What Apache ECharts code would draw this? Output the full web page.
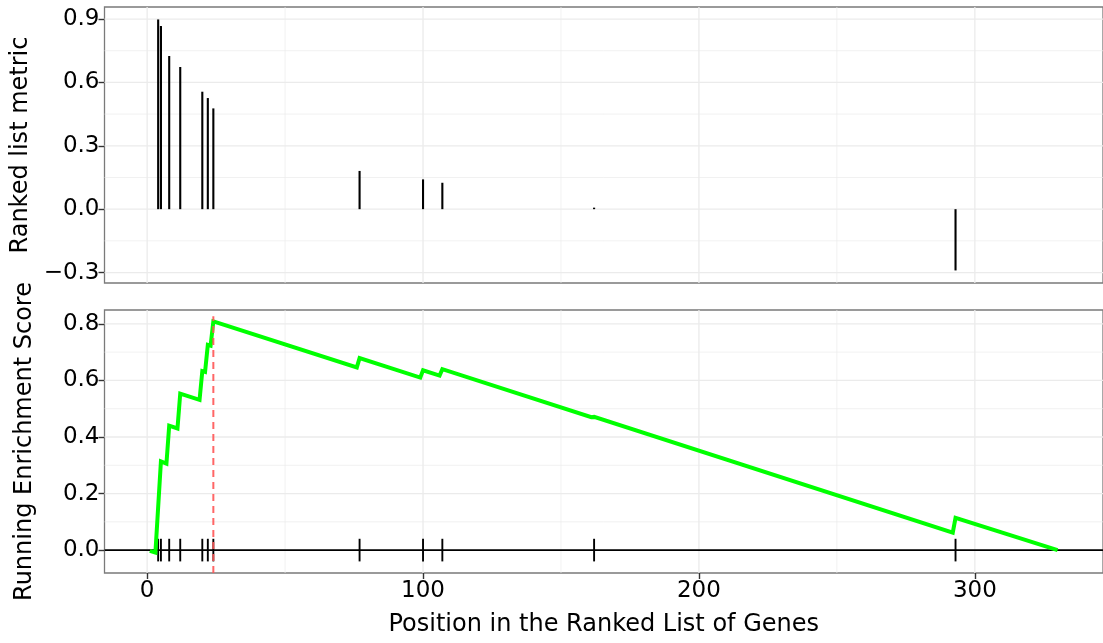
<!DOCTYPE html>
<html>
<head>
<meta charset="utf-8">
<script src="https://cdn.jsdelivr.net/npm/echarts@6/dist/echarts.min.js"></script>
<style>
html,body{margin:0;padding:0;background:#fff;}
#chart{width:1103px;height:643px;}
</style>
</head>
<body>
<div id="chart"></div>
<script>
// ---- data ----
const hitPositions = [4, 5, 8, 12, 20, 22, 24, 77, 100, 107, 162, 293];
const rankedMetric = [0.898, 0.867, 0.725, 0.673, 0.556, 0.526, 0.477, 0.181, 0.141, 0.125, 0.005, -0.29];
const esPositions = [1, 3, 5, 7, 8, 11, 12, 19, 20, 21, 22, 23, 24, 76, 77, 99, 100, 106, 107, 161, 162, 292, 293, 330];
const esValues = [-0.003, -0.009, 0.314, 0.306, 0.440, 0.430, 0.553, 0.531, 0.633, 0.630, 0.726, 0.723, 0.809, 0.646, 0.679, 0.610, 0.636, 0.617, 0.640, 0.470, 0.471, 0.062, 0.114, 0.000];
const xTicks = [0, 100, 200, 300];
const xMinor = [50, 150, 250];
const metricTicks = [-0.3, 0, 0.3, 0.6, 0.9];
const metricMinor = [-0.15, 0.15, 0.45, 0.75];
const esTicks = [0, 0.2, 0.4, 0.6, 0.8];
const esMinor = [0.1, 0.3, 0.5, 0.7];
const xTitle = 'Position in the Ranked List of Genes';
const metricTitle = 'Ranked list metric';
const esTitle = 'Running Enrichment Score';

// ---- style / layout ----
const FONT = 'DejaVu Sans';
const X_MIN = -15.45, X_MAX = 346.45;
const M_MIN = -0.3495, M_MAX = 0.957;
const E_MIN = -0.081, E_MAX = 0.849;
const GRID_COLOR = '#ebebeb';
const BORDER = '#7a7a7a';
const TICK_HALF = 0.04;

let peakIdx = 0;
esValues.forEach((v, i) => { if (v > esValues[peakIdx]) peakIdx = i; });

function fmt(v) {
  return (v < 0 ? '\u2212' : '') + Math.abs(v).toFixed(1);
}

// grid line items: [dir(0 vertical,1 horizontal), value, major(1/0)]
function gridItems(yMajor, yMinor) {
  const out = [];
  xMinor.forEach(v => out.push([0, v, 0]));
  yMinor.forEach(v => out.push([1, v, 0]));
  xTicks.forEach(v => out.push([0, v, 1]));
  yMajor.forEach(v => out.push([1, v, 1]));
  return out;
}
function renderGrid(params, api) {
  const cs = params.coordSys;
  const dir = api.value(0), v = api.value(1), major = api.value(2);
  let shape;
  if (dir === 0) {
    const x = api.coord([v, 0])[0];
    shape = { x1: x, y1: cs.y, x2: x, y2: cs.y + cs.height };
  } else {
    const y = api.coord([0, v])[1];
    shape = { x1: cs.x, y1: y, x2: cs.x + cs.width, y2: y };
  }
  return { type: 'line', shape, style: { stroke: GRID_COLOR, lineWidth: major ? 1.3 : 0.7 } };
}

const axisLabelBase = { fontFamily: FONT, fontSize: 23, color: '#000' };
const tickStyle = { color: '#333', width: 1.4 };
const nameStyle = { fontFamily: FONT, fontSize: 24, color: '#000' };
const noLine = { show: false, onZero: false };

const option = {
  animation: false,
  backgroundColor: '#fff',
  textStyle: { fontFamily: FONT },
  grid: [
    { left: 104.5, top: 7, width: 1001.5, height: 276, show: true, borderColor: BORDER, borderWidth: 1.3, backgroundColor: '#fff', containLabel: false },
    { left: 104.5, top: 310, width: 1001.5, height: 263, show: true, borderColor: BORDER, borderWidth: 1.3, backgroundColor: '#fff', containLabel: false }
  ],
  xAxis: [
    { type: 'value', gridIndex: 0, min: X_MIN, max: X_MAX, position: 'bottom',
      axisLine: noLine, axisTick: { show: false }, axisLabel: { show: false }, splitLine: { show: false } },
    { type: 'value', gridIndex: 1, min: X_MIN, max: X_MAX, position: 'bottom',
      axisLine: noLine,
      axisTick: { show: true, customValues: xTicks, length: 6, lineStyle: tickStyle },
      axisLabel: Object.assign({ customValues: xTicks, margin: 7, formatter: v => String(Math.round(v)) }, axisLabelBase),
      splitLine: { show: false },
      name: xTitle, nameLocation: 'middle', nameGap: 40,
      nameTextStyle: nameStyle }
  ],
  yAxis: [
    { type: 'value', gridIndex: 0, min: M_MIN, max: M_MAX, position: 'left',
      axisLine: noLine,
      axisTick: { show: true, customValues: metricTicks, length: 6, lineStyle: tickStyle },
      axisLabel: Object.assign({ customValues: metricTicks, margin: 5, formatter: fmt }, axisLabelBase),
      splitLine: { show: false },
      name: metricTitle, nameLocation: 'middle', nameRotate: 90, nameGap: 68,
      nameTextStyle: nameStyle },
    { type: 'value', gridIndex: 1, min: E_MIN, max: E_MAX, position: 'left',
      axisLine: noLine,
      axisTick: { show: true, customValues: esTicks, length: 6, lineStyle: tickStyle },
      axisLabel: Object.assign({ customValues: esTicks, margin: 5, formatter: fmt }, axisLabelBase),
      splitLine: { show: false },
      name: esTitle, nameLocation: 'middle', nameRotate: 90, nameGap: 68,
      nameTextStyle: nameStyle }
  ],
  series: [
    { type: 'custom', name: 'grid0', xAxisIndex: 0, yAxisIndex: 0, z: 1, silent: true,
      data: gridItems(metricTicks, metricMinor), renderItem: renderGrid },
    { type: 'custom', name: 'grid1', xAxisIndex: 1, yAxisIndex: 1, z: 1, silent: true,
      data: gridItems(esTicks, esMinor), renderItem: renderGrid },
    { type: 'custom', name: 'metric', xAxisIndex: 0, yAxisIndex: 0, z: 3, silent: true,
      data: hitPositions.map((p, i) => [p, rankedMetric[i]]),
      renderItem: function (params, api) {
        const a = api.coord([api.value(0), 0]);
        const b = api.coord([api.value(0), api.value(1)]);
        if (Math.abs(b[1] - a[1]) < 1.5) b[1] = a[1] - 1.5;
        return { type: 'line', shape: { x1: a[0], y1: a[1], x2: b[0], y2: b[1] },
                 style: { stroke: '#000', lineWidth: 2.1 } };
      } },
    { type: 'custom', name: 'zero', xAxisIndex: 1, yAxisIndex: 1, z: 3, silent: true,
      data: [[0, 0]],
      renderItem: function (params, api) {
        const cs = params.coordSys;
        const y = api.coord([0, api.value(1)])[1];
        return { type: 'line', shape: { x1: cs.x, y1: y, x2: cs.x + cs.width, y2: y },
                 style: { stroke: '#000', lineWidth: 1.9 } };
      } },
    { type: 'custom', name: 'hits', xAxisIndex: 1, yAxisIndex: 1, z: 3, silent: true,
      data: hitPositions.map(p => [p, 0]),
      renderItem: function (params, api) {
        const a = api.coord([api.value(0), -TICK_HALF]);
        const b = api.coord([api.value(0), TICK_HALF]);
        return { type: 'line', shape: { x1: a[0], y1: a[1], x2: b[0], y2: b[1] },
                 style: { stroke: '#000', lineWidth: 1.9 } };
      } },
    { type: 'line', name: 'ES', xAxisIndex: 1, yAxisIndex: 1, z: 4, silent: true,
      data: esPositions.map((p, i) => [p, esValues[i]]),
      showSymbol: false, symbol: 'none',
      lineStyle: { color: '#00ff00', width: 4, join: 'miter' } },
    { type: 'custom', name: 'peak', xAxisIndex: 1, yAxisIndex: 1, z: 5, silent: true,
      data: [[esPositions[peakIdx], esValues[peakIdx]]],
      renderItem: function (params, api) {
        const cs = params.coordSys;
        const t = api.coord([api.value(0), api.value(1)]);
        return { type: 'line', shape: { x1: t[0], y1: cs.y + cs.height, x2: t[0], y2: t[1] - 5 },
                 style: { stroke: 'rgba(255,85,85,0.9)', lineWidth: 2, lineDash: [7, 5] } };
      } }
  ]
};

const chart = echarts.init(document.getElementById('chart'), null, { renderer: 'canvas' });
chart.setOption(option);
</script>
</body>
</html>
